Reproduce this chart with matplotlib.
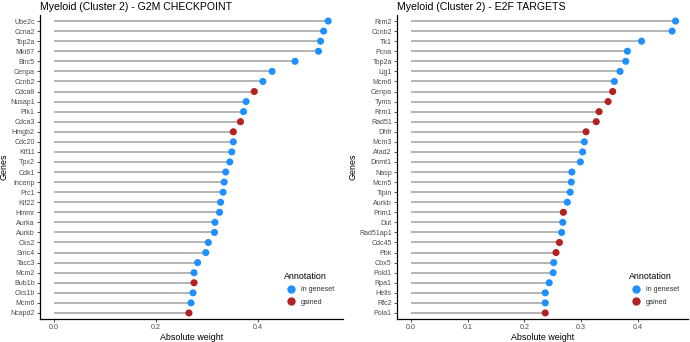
import matplotlib
matplotlib.use("Agg")
import matplotlib.pyplot as plt
from matplotlib.lines import Line2D

plt.rcParams['font.family'] = ['Liberation Sans', 'DejaVu Sans']

# G2M checkpoint panel (top to bottom)
g2m_genes = ["Ube2c", "Ccna2", "Top2a", "Mki67", "Birc5", "Cenpa", "Ccnb2", "Cdca8",
             "Nusap1", "Plk1", "Cdca3", "Hmgb2", "Cdc20", "Kif11", "Tpx2", "Cdk1",
             "Incenp", "Prc1", "Kif22", "Hmmr", "Aurka", "Aurkb", "Cks2", "Smc4",
             "Tacc3", "Mcm2", "Bub1b", "Cks1b", "Mcm6", "Ncapd2"]
g2m_weight = [0.538, 0.529, 0.523, 0.519, 0.473, 0.428, 0.410, 0.393,
              0.377, 0.372, 0.366, 0.352, 0.352, 0.349, 0.345, 0.337,
              0.334, 0.332, 0.327, 0.325, 0.316, 0.315, 0.303, 0.298,
              0.282, 0.275, 0.275, 0.273, 0.269, 0.265]
g2m_annot = ["in", "in", "in", "in", "in", "in", "in", "gained",
             "in", "in", "gained", "gained", "in", "in", "in", "in",
             "in", "in", "in", "in", "in", "in", "in", "in",
             "in", "in", "gained", "in", "in", "gained"]

# E2F targets panel (top to bottom)
e2f_genes = ["Rrm2", "Ccnb2", "Tk1", "Pcna", "Top2a", "Lig1", "Mcm6", "Cenpa",
             "Tyms", "Rrm1", "Rad51", "Dhfr", "Mcm3", "Atad2", "Dnmt1", "Nasp",
             "Mcm5", "Tipin", "Aurkb", "Prim1", "Dut", "Rad51ap1", "Cdc45", "Pbk",
             "Cbx5", "Pold1", "Rpa1", "Hells", "Rfc2", "Pola1"]
e2f_weight = [0.467, 0.461, 0.407, 0.382, 0.379, 0.369, 0.359, 0.356,
              0.348, 0.332, 0.327, 0.309, 0.306, 0.303, 0.299, 0.284,
              0.283, 0.281, 0.276, 0.269, 0.268, 0.266, 0.262, 0.256,
              0.252, 0.251, 0.244, 0.237, 0.237, 0.237]
e2f_annot = ["in", "in", "in", "in", "in", "in", "in", "gained",
             "gained", "gained", "gained", "gained", "in", "in", "in", "in",
             "in", "in", "in", "gained", "in", "in", "gained", "gained",
             "in", "in", "in", "in", "in", "gained"]

colors = {"in": "#1E90FF", "gained": "#B22222"}
text_col = "#4D4D4D"

fig = plt.figure(figsize=(6.9, 3.42), dpi=100)
W, H = 690, 342


def lollipop(ax, genes, weights, annot, title, xticks, xlim, ylab_x):
    n = len(genes)
    ys = list(range(n, 0, -1))
    ax.hlines(ys, 0, weights, color="#A0A0A0", lw=1.1, zorder=1)
    ax.scatter(weights, ys, c=[colors[a] for a in annot], s=26, zorder=2,
               linewidths=0)
    ax.set_yticks(ys)
    ax.set_yticklabels(genes)
    ax.set_ylim(0.4, n + 0.6)
    ax.set_xlim(*xlim)
    ax.set_xticks(xticks)
    ax.set_xticklabels([f"{t:.1f}" for t in xticks])
    for s in ["top", "right"]:
        ax.spines[s].set_visible(False)
    for s in ["left", "bottom"]:
        ax.spines[s].set_linewidth(0.9)
    ax.tick_params(labelsize=5.15, colors=text_col, length=2.5, width=0.6,
                   pad=1.2)
    ax.tick_params(axis="both", color="#333333")
    ax.set_xlabel("Absolute weight", fontsize=6.4, labelpad=1.0)
    ax.set_ylabel("Genes", fontsize=6.4)
    ax.yaxis.set_label_coords(ylab_x, 0.5)
    ax.set_title(title, fontsize=7.6, loc="left", pad=3.5)
    handles = [Line2D([], [], marker="o", ls="", color=colors["in"], ms=5.0,
                      label="in geneset"),
               Line2D([], [], marker="o", ls="", color=colors["gained"], ms=5.0,
                      label="gained")]
    leg = ax.legend(handles=handles, title="Annotation", frameon=False,
                    loc="lower right", bbox_to_anchor=(0.985, 0.03),
                    fontsize=5.2, title_fontsize=6.4, handletextpad=0.4,
                    labelspacing=0.75, borderaxespad=0.2)
    for t in leg.get_texts():
        t.set_color("#333333")
    leg._legend_box.align = "left"


ax1 = fig.add_axes([40 / W, 23 / H, (343 - 40) / W, (319 - 15) / H])
lollipop(ax1, g2m_genes, g2m_weight, g2m_annot,
         "Myeloid (Cluster 2) - G2M CHECKPOINT", [0.0, 0.2, 0.4],
         (-0.027, 0.567), -0.104)

ax2 = fig.add_axes([397 / W, 23 / H, (688 - 397) / W, (319 - 15) / H])
lollipop(ax2, e2f_genes, e2f_weight, e2f_annot,
         "Myeloid (Cluster 2) - E2F TARGETS", [0.0, 0.1, 0.2, 0.3, 0.4],
         (-0.0247, 0.489), -0.137)

fig.savefig("out.png", dpi=100)
